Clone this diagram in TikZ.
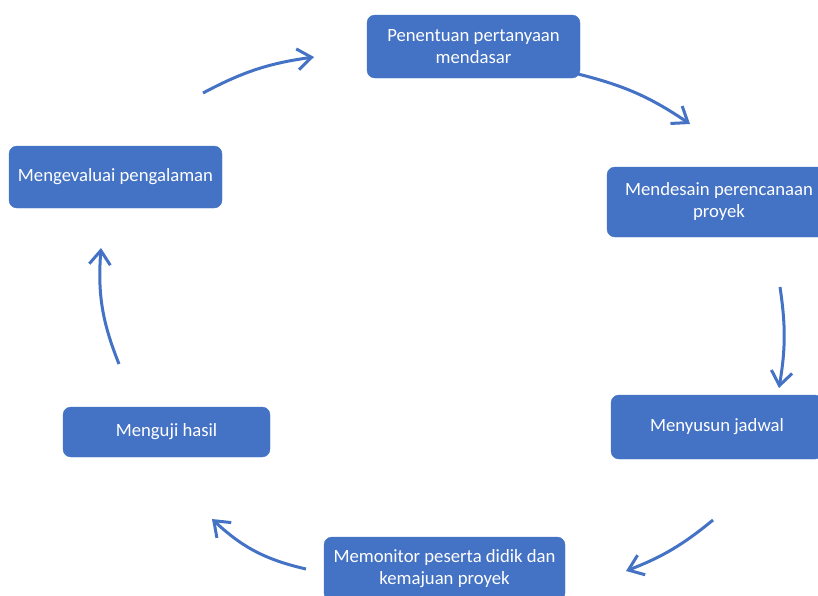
\documentclass[tikz,border=0pt]{standalone}
\usepackage{fontspec}
\setmainfont{Carlito}
\usetikzlibrary{arrows.meta}
\usepackage{xcolor}
\definecolor{tahapblue}{HTML}{4472C4}

\tikzset{
  tahap/.style={fill=tahapblue, draw=tahapblue, rounded corners=8pt, text=white, align=center,
    inner sep=0pt, font=\fontsize{18.7}{22}\selectfont},
  panah/.style={draw=tahapblue, line width=3pt, -{Straight Barb[length=14pt,width=21pt]}}
}

\begin{document}
\begin{tikzpicture}[x=1pt, y=1pt]
				% Paths, nodes and arrows:
				\useasboundingbox (0,0) rectangle (818,-595);
				\clip (0,0) rectangle (818,-595);
				\node[tahap, minimum width=213pt, minimum height=63pt](penentuan) at (473.5,-46.5){Penentuan pertanyaan\\mendasar};
				\node[tahap, minimum width=224pt, minimum height=70pt](mendesain) at (719,-202){Mendesain perencanaan\\proyek};
				\node[tahap, minimum width=212pt, minimum height=64pt](menyusun) at (717,-427){Menyusun jadwal};
				\node[tahap, minimum width=241pt, minimum height=64pt](memonitor) at (444.5,-569){Memonitor peserta didik dan\\kemajuan proyek};
				\node[tahap, minimum width=207pt, minimum height=50pt](menguji) at (166.5,-432){Menguji hasil};
				\node[tahap, minimum width=213pt, minimum height=62pt](mengevaluai) at (115.5,-177){Mengevaluai pengalaman};
				\coordinate (a1s) at (203,-93);  \coordinate (a1e) at (314,-57);
				\coordinate (a2s) at (578,-74);  \coordinate (a2e) at (690,-124);
				\coordinate (a3s) at (780,-287); \coordinate (a3e) at (779,-388);
				\coordinate (a4s) at (713,-520); \coordinate (a4e) at (626,-571);
				\coordinate (a5s) at (306,-569); \coordinate (a5e) at (212,-519);
				\coordinate (a6s) at (119,-364); \coordinate (a6e) at (101,-248);
				\draw[panah] (a1s) to[bend left=10] (a1e);
				\draw[panah] (a2s) to[bend left=10] (a2e);
				\draw[panah] (a3s) to[bend left=9] (a3e);
				\draw[panah] (a4s) to[bend left=9] (a4e);
				\draw[panah] (a5s) to[bend left=15] (a5e);
				\draw[panah] (a6s) to[bend left=13] (a6e);
\end{tikzpicture}
\end{document}
